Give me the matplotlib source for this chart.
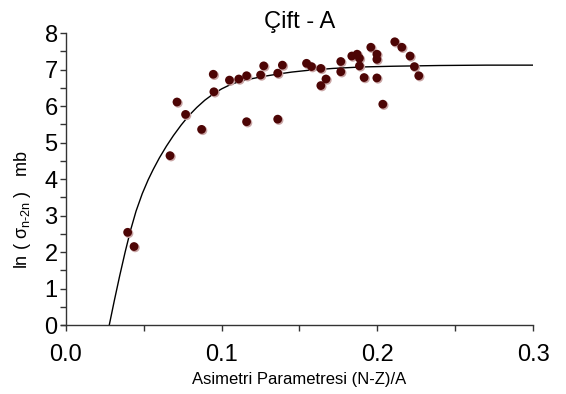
import matplotlib
matplotlib.use("Agg")
import matplotlib.pyplot as plt
import matplotlib.transforms as mtransforms
from matplotlib.ticker import MultipleLocator

# === Data ===
asym = [0.0396, 0.0437, 0.0668, 0.0713, 0.0768, 0.0871, 0.0946, 0.0950,
        0.1050, 0.1110, 0.1160, 0.1160, 0.1250, 0.1270, 0.1360, 0.1360,
        0.1390, 0.1545, 0.1577, 0.1637, 0.1637, 0.1670, 0.1765, 0.1765,
        0.1836, 0.1870, 0.1885, 0.1885, 0.1915, 0.1958, 0.1997, 0.1997,
        0.1997, 0.2035, 0.2112, 0.2157, 0.2210, 0.2238, 0.2266]
ln_sigma = [2.54, 2.15, 4.64, 6.11, 5.77, 5.36, 6.87, 6.39,
            6.71, 6.74, 6.83, 5.57, 6.85, 7.10, 6.90, 5.64,
            7.12, 7.17, 7.08, 7.03, 6.56, 6.74, 7.22, 6.94,
            7.37, 7.42, 7.31, 7.10, 6.78, 7.61, 7.42, 7.28,
            6.77, 6.05, 7.76, 7.61, 7.37, 7.08, 6.83]

# fitted curve
fit_x = [0.0278, 0.0310, 0.0345, 0.0380, 0.0415, 0.0450, 0.0490, 0.0528,
         0.0560, 0.0600, 0.0645, 0.0690, 0.0740, 0.0790, 0.0840, 0.0892,
         0.0946, 0.1000, 0.1053, 0.1106, 0.1160, 0.1267, 0.1353, 0.1450,
         0.1560, 0.1716, 0.1900, 0.2100, 0.2400, 0.2700, 0.3000]
fit_y = [0.00, 0.66, 1.35, 2.00, 2.60, 3.12, 3.60, 3.98,
         4.26, 4.58, 4.90, 5.19, 5.48, 5.74, 5.96, 6.16,
         6.33, 6.47, 6.58, 6.66, 6.72, 6.81, 6.87, 6.93,
         6.98, 7.03, 7.07, 7.09, 7.11, 7.12, 7.12]

xticks = [0.0, 0.1, 0.2, 0.3]
xtick_labels = ["0.0", "0.1", "0.2", "0.3"]

# === Styling ===
plt.rcParams.update({
    "font.family": "Liberation Sans",
    "mathtext.fontset": "custom",
    "mathtext.rm": "Liberation Sans",
    "mathtext.it": "Liberation Sans",
})

fig = plt.figure(figsize=(5.66, 3.94), dpi=100)
ax = fig.add_axes([0.1166, 0.1751, 0.8251, 0.7411])

ax.plot(fit_x, fit_y, color="k", lw=1.0, zorder=2)

# shaded dots: light rim offset down-right, dark body on top
shift = mtransforms.offset_copy(ax.transData, fig=fig, x=0.8, y=-0.8, units="points")
ax.scatter(asym, ln_sigma, s=44, color="#c9a5a5", edgecolors="none",
           transform=shift, zorder=3)
ax.scatter(asym, ln_sigma, s=40, color="#4d0505", edgecolors="none", zorder=4)

ax.set_xlim(0, 0.3)
ax.set_ylim(0, 8)
ax.set_xticks(xticks)
ax.set_xticklabels(xtick_labels)
ax.xaxis.set_minor_locator(MultipleLocator(0.05))
ax.yaxis.set_major_locator(MultipleLocator(1))
ax.yaxis.set_minor_locator(MultipleLocator(0.5))

for s in ["top", "right"]:
    ax.spines[s].set_visible(False)
for s in ["left", "bottom"]:
    ax.spines[s].set_color("#333333")
    ax.spines[s].set_linewidth(1.0)
ax.spines["bottom"].set_bounds(-0.003, 0.3)

ax.tick_params(which="both", direction="out", length=4, width=1,
               color="#333333", labelsize=17)
ax.tick_params(axis="y", which="both", pad=2)
ax.tick_params(axis="x", which="both", pad=10)

ax.set_title("Çift - A", fontsize=17, pad=3)
ax.set_xlabel("Asimetri Parametresi (N-Z)/A", fontsize=12, labelpad=4)
ax.set_ylabel(r"ln ( $\sigma_{\mathrm{n\text{-}2n}}$ )   mb", fontsize=13)
ax.yaxis.set_label_coords(-0.071, 0.397)

plt.savefig("out.png", dpi=100)
